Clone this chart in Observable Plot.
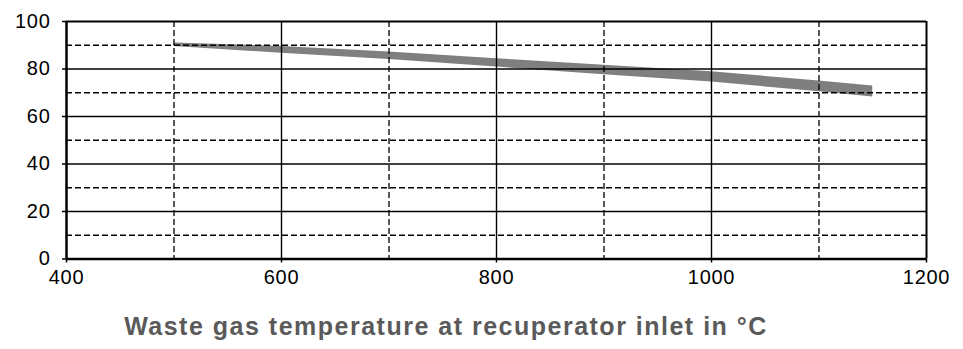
<!DOCTYPE html>
<html>
<head>
<meta charset="utf-8">
<script src="https://cdn.jsdelivr.net/npm/d3@7"></script>
<script src="https://cdn.jsdelivr.net/npm/@observablehq/plot@0.6"></script>
<style>
  html, body { margin: 0; padding: 0; background: #fff; }
  #chart svg { display: block; }
  #chart svg text { letter-spacing: 0.7px; }
  #title {
    width: 892px; text-align: center; margin-top: 22px;
    font-family: "Liberation Sans", Arial, Helvetica, sans-serif;
    font-size: 25px; line-height: 28px; color: #5a5a5a; font-weight: bold;
    letter-spacing: 1.5px; white-space: nowrap;
  }
</style>
</head>
<body>
<div id="chart"></div>
<div id="title">Waste gas temperature at recuperator inlet in °C</div>
<script>
const xTicks = [400, 600, 800, 1000, 1200];
const xMajorGrid = [600, 800, 1000];
const xMinorGrid = [500, 700, 900, 1100];
const yTicks = [0, 20, 40, 60, 80, 100];
const yMajorGrid = [20, 40, 60, 80];
const yMinorGrid = [10, 30, 50, 70, 90];

const temperature = [500, 600, 700, 800, 900, 1000, 1100, 1150];
const upper = [91.0, 89.5, 87.2, 84.3, 81.6, 78.8, 75.0, 72.8];
const lower = [89.5, 86.6, 84.0, 80.8, 77.6, 74.5, 70.4, 68.2];

const band = temperature.map((t, i) => ({t, hi: upper[i], lo: lower[i]}));

const dashed = {stroke: "#000", strokeWidth: 1.3, strokeDasharray: "6,3"};
const solid = {stroke: "#000", strokeWidth: 1.4};

const chart = Plot.plot({
  width: 963,
  height: 290,
  marginLeft: 66,
  marginRight: 37,
  marginTop: 21,
  marginBottom: 31.5,
  x: {domain: [400, 1200]},
  y: {domain: [0, 100]},
  style: {
    fontFamily: "'Liberation Sans', Arial, Helvetica, sans-serif",
    fontSize: "20px",
    color: "#000",
    background: "#fff",
    overflow: "visible"
  },
  marks: [
    Plot.areaY(band, {x: "t", y1: "lo", y2: "hi", fill: "#7f7f7f", curve: "linear"}),
    Plot.ruleY(yMinorGrid, dashed),
    Plot.ruleX(xMinorGrid, dashed),
    Plot.ruleY(yMajorGrid, solid),
    Plot.ruleX(xMajorGrid, solid),
    Plot.ruleY([100], {stroke: "#000", strokeWidth: 2}),
    Plot.ruleX([1200], {stroke: "#000", strokeWidth: 2}),
    Plot.ruleY([0], {stroke: "#000", strokeWidth: 2.5}),
    Plot.ruleX([400], {stroke: "#000", strokeWidth: 2.5}),
    Plot.axisX(xTicks, {tickSize: 4, tickPadding: 7, label: null, tickFormat: d => String(d), fontSize: 20, stroke: "#000", strokeWidth: 1.5, fill: "#000"}),
    Plot.axisY(yTicks, {tickSize: 4, tickPadding: 12, label: null, tickFormat: d => String(d), fontSize: 20, stroke: "#000", strokeWidth: 1.5, fill: "#000"})
  ]
});
document.getElementById("chart").appendChild(chart);
</script>
</body>
</html>
